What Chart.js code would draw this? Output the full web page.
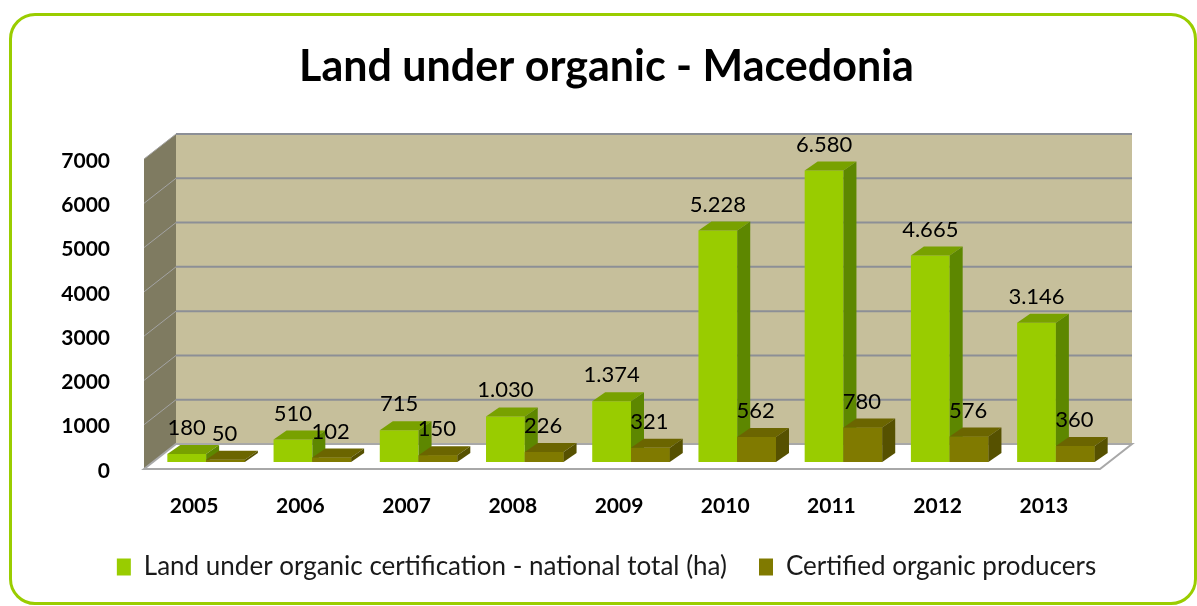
<!DOCTYPE html>
<html>
<head>
<meta charset="utf-8">
<script src="https://cdn.jsdelivr.net/npm/chart.js@4.4.1/dist/chart.umd.min.js"></script>
<style>
    html, body { margin: 0; padding: 0; background: #fff; }
    .frame {
        position: absolute; left: 9px; top: 13px; width: 1182px; height: 586px;
        border: 3px solid #9acd00; border-radius: 26px;
    }
    #grafico { position: absolute; left: 0; top: 0; }
</style>
</head>
<body>
<div class="frame"></div>
<canvas id="grafico" width="1197" height="606"></canvas>
<script>
const anos = ['2005', '2006', '2007', '2008', '2009', '2010', '2011', '2012', '2013'];
const terraOrganica = [180, 510, 715, 1030, 1374, 5228, 6580, 4665, 3146];
const produtores = [50, 102, 150, 226, 321, 562, 780, 576, 360];
const yMax = 7000;
const yPasso = 1000;

// profundidade das barras e da caixa 3D
const BAR_DX = 13, BAR_DY = 9;
const BACK_DX = 23, BACK_DY = -18;
const FRONT_DX = -9, FRONT_DY = 7;

const faces = [
    { top: '#78a100', side: '#5d8700' },
    { top: '#6b6500', side: '#565100' }
];

const fonte = 'Lato, "Open Sans", sans-serif';

function formatar(v) {
    return String(v).replace(/\B(?=(\d{3})+(?!\d))/g, '.');
}

function poligono(ctx, pts, fill, stroke, lw) {
    ctx.beginPath();
    ctx.moveTo(pts[0][0], pts[0][1]);
    for (let i = 1; i < pts.length; i++) ctx.lineTo(pts[i][0], pts[i][1]);
    ctx.closePath();
    if (fill) { ctx.fillStyle = fill; ctx.fill(); }
    if (stroke) { ctx.strokeStyle = stroke; ctx.lineWidth = lw || 1; ctx.stroke(); }
}

function extrudar(ctx, bar, cor) {
    const { x, y, base, width } = bar.getProps(['x', 'y', 'base', 'width'], true);
    const l = x - width / 2, r = x + width / 2;
    poligono(ctx, [[l, y], [r, y], [r + BAR_DX, y - BAR_DY], [l + BAR_DX, y - BAR_DY]], cor.top);
    poligono(ctx, [[r, y], [r + BAR_DX, y - BAR_DY], [r + BAR_DX, base - BAR_DY], [r, base]], cor.side);
}

const caixa3d = {
    id: 'caixa3d',
    beforeDatasetsDraw(chart) {
        const { ctx, chartArea: a, scales: { y } } = chart;
        const y0 = y.getPixelForValue(0);
        const yT = y.getPixelForValue(yMax);
        ctx.save();
        // parede do fundo
        poligono(ctx, [[a.left + BACK_DX, yT + BACK_DY], [a.right + BACK_DX, yT + BACK_DY],
            [a.right + BACK_DX, y0 + BACK_DY], [a.left + BACK_DX, y0 + BACK_DY]], '#c6bf9b');
        // parede lateral
        poligono(ctx, [[a.left + FRONT_DX, yT + FRONT_DY], [a.left + BACK_DX, yT + BACK_DY],
            [a.left + BACK_DX, y0 + BACK_DY], [a.left + FRONT_DX, y0 + FRONT_DY]], '#7f7b61');
        // grade
        y.ticks.forEach(t => {
            const py = y.getPixelForValue(t.value);
            ctx.beginPath();
            ctx.moveTo(a.left + FRONT_DX, py + FRONT_DY);
            ctx.lineTo(a.left + BACK_DX, py + BACK_DY);
            ctx.strokeStyle = '#a3a3a3';
            ctx.lineWidth = 1;
            ctx.stroke();
            if (t.value > 0) {
                ctx.beginPath();
                ctx.moveTo(a.left + BACK_DX, py + BACK_DY);
                ctx.lineTo(a.right + BACK_DX, py + BACK_DY);
                ctx.strokeStyle = '#8c8f96';
                ctx.lineWidth = 2;
                ctx.stroke();
            }
        });
        // chao
        poligono(ctx, [[a.left + FRONT_DX, y0 + FRONT_DY], [a.left + BACK_DX, y0 + BACK_DY],
            [a.right + BACK_DX, y0 + BACK_DY], [a.right + FRONT_DX, y0 + FRONT_DY]], '#ffffff', '#a8a8a8', 2);
        ctx.restore();
    },
    afterDatasetsDraw(chart) {
        const ctx = chart.ctx;
        const m0 = chart.getDatasetMeta(0);
        const m1 = chart.getDatasetMeta(1);
        ctx.save();
        m0.data.forEach(bar => extrudar(ctx, bar, faces[0]));
        m1.data.forEach(bar => { bar.draw(ctx); extrudar(ctx, bar, faces[1]); });

        ctx.fillStyle = '#000';
        ctx.font = '22px ' + fonte;
        ctx.textAlign = 'center';
        ctx.textBaseline = 'middle';
        [m0, m1].forEach((meta, d) => {
            meta.data.forEach((bar, i) => {
                const v = chart.data.datasets[d].data[i];
                ctx.fillText(formatar(v), bar.x + (d === 0 ? 0 : -1), bar.y - BAR_DY - 17);
            });
        });
        ctx.restore();
    }
};

new Chart(document.getElementById('grafico'), {
    type: 'bar',
    data: {
        labels: anos,
        datasets: [{
            label: 'Land under organic certification - national total (ha)',
            data: terraOrganica,
            backgroundColor: '#99cc00',
            borderWidth: 0
        }, {
            label: 'Certified organic producers',
            data: produtores,
            backgroundColor: '#807a00',
            borderWidth: 0
        }]
    },
    options: {
        responsive: false,
        animation: false,
        layout: { padding: { left: 16, right: 0, top: 0, bottom: 16 } },
        datasets: { bar: { barPercentage: 1.0, categoryPercentage: 0.73 } },
        plugins: {
            title: {
                display: true,
                text: 'Land under organic - Macedonia',
                color: '#000',
                font: { family: fonte, size: 43, weight: 'bold' },
                padding: { top: 41, bottom: 59.4 }
            },
            legend: {
                position: 'bottom',
                labels: {
                    color: '#1a1a1a',
                    font: { family: fonte, size: 26 },
                    boxWidth: 14,
                    boxHeight: 17,
                    padding: 32
                }
            },
            tooltip: { enabled: false }
        },
        scales: {
            x: {
                grid: { display: false },
                border: { display: false },
                ticks: {
                    color: '#000',
                    font: { family: fonte, size: 21, weight: 'bold' },
                    padding: 24,
                    labelOffset: -12
                },
                afterFit(s) { s.height = 60; }
            },
            y: {
                min: 0,
                max: yMax,
                grid: { display: false },
                border: { display: false },
                ticks: {
                    stepSize: yPasso,
                    color: '#000',
                    font: { family: fonte, size: 21, weight: 'bold' },
                    padding: 35,
                    labelOffset: 9,
                    callback: v => String(v)
                },
                afterFit(s) { s.width = 137; }
            },
            direita: {
                position: 'right',
                grid: { display: false },
                border: { display: false },
                ticks: { display: false },
                afterFit(s) { s.width = 88; }
            }
        }
    },
    plugins: [caixa3d]
});
</script>
</body>
</html>
